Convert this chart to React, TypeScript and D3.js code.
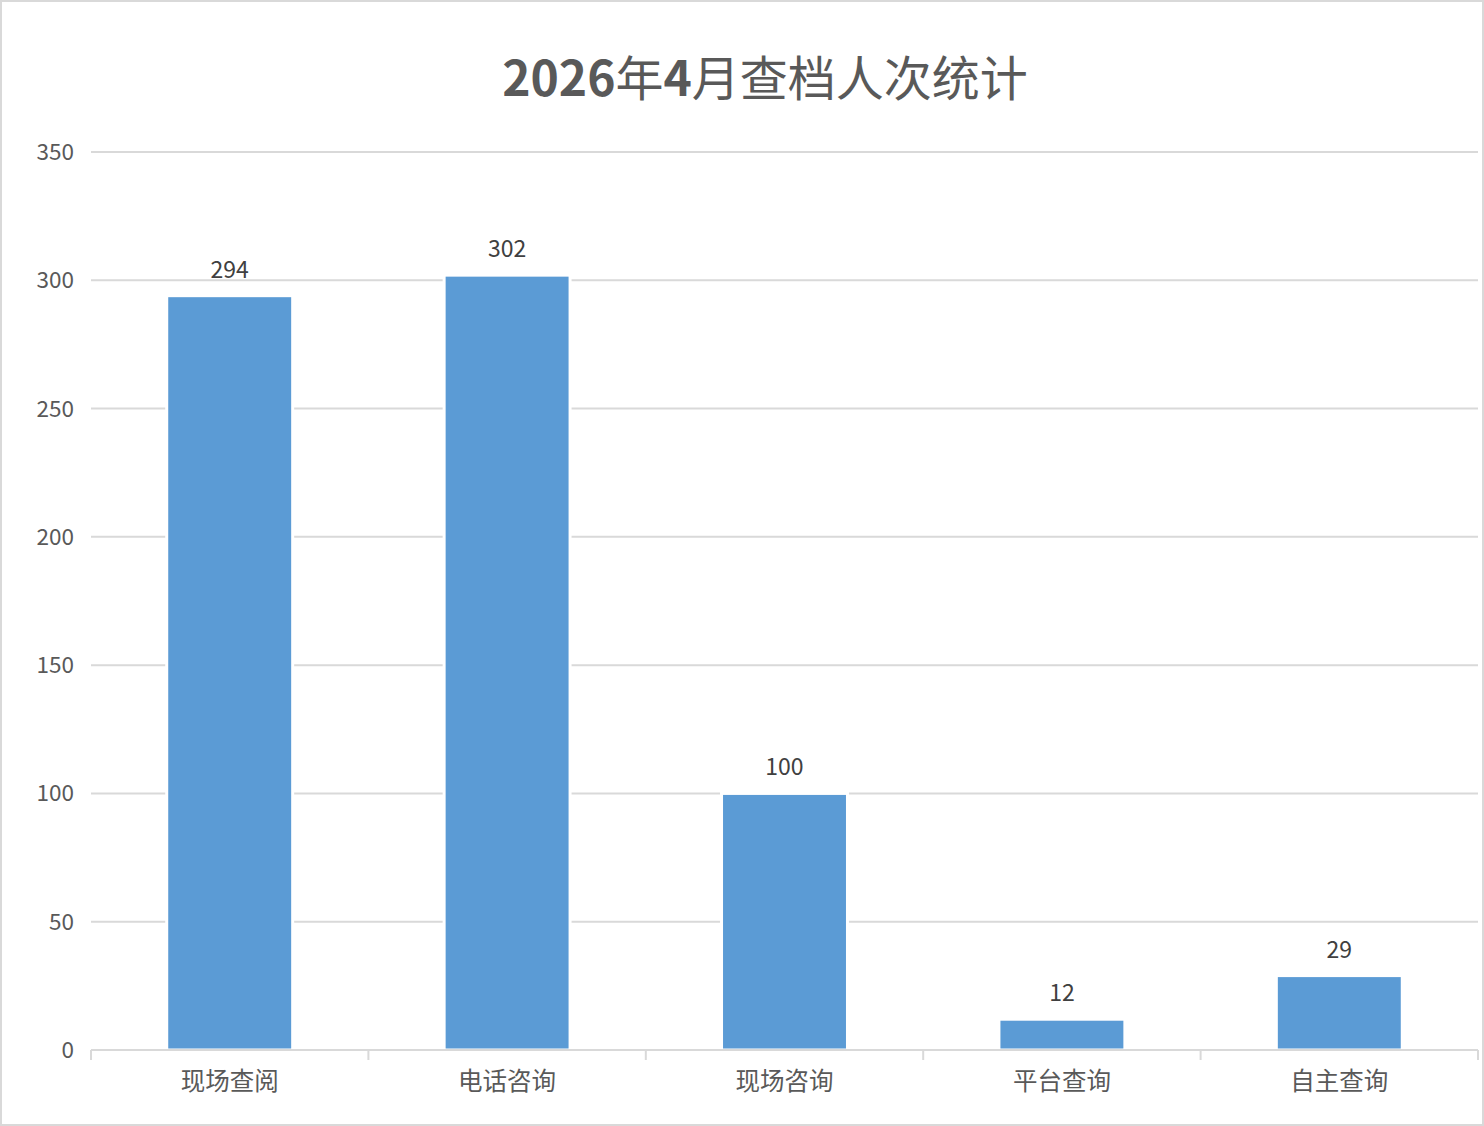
import React from "react";
import * as d3 from "d3";

const categories = ["现场查阅", "电话咨询", "现场咨询", "平台查询", "自主查询"];
const values = [294, 302, 100, 12, 29];
const yTicks = [0, 50, 100, 150, 200, 250, 300, 350];
const titleNum = "2026";
const titleMid = "年";
const titleNum2 = "4";
const titleRest = "月查档人次统计";

const W = 1484;
const H = 1126;
const left = 91;
const right = 1478;
const top = 152;
const bottom = 1050;

export default function App() {
  const x = d3.scaleBand<string>().domain(categories).range([left, right]).paddingInner(0.546).paddingOuter(0.273);
  const y = d3.scaleLinear().domain([0, 350]).range([bottom, top]);
  const step = (right - left) / categories.length;
  const font = "'Noto Sans CJK SC', 'Noto Sans', sans-serif";
  return (
    <div style={{ position: "fixed", left: 0, top: 0 }}>
      <svg width={W} height={H} style={{ display: "block", background: "#fff" }}>
        <rect x={1} y={1} width={W - 2} height={H - 2} fill="#fff" stroke="#d9d9d9" strokeWidth={2} />
        <text x={765} y={96} textAnchor="middle" fill="#595959" fontFamily={font} fontSize={48}>
          <tspan fontWeight="bold">{titleNum}</tspan>
          <tspan>{titleMid}</tspan>
          <tspan fontWeight="bold">{titleNum2}</tspan>
          <tspan>{titleRest}</tspan>
        </text>
        {yTicks.map((t) => (
          <g key={t}>
            {t > 0 && <line x1={left} x2={right} y1={y(t)} y2={y(t)} stroke="#d9d9d9" strokeWidth={2} />}
            <text x={74} y={y(t) + 8} textAnchor="end" fill="#595959" fontFamily={font} fontSize={22.5}>
              {t}
            </text>
          </g>
        ))}
        {categories.map((c, i) => (
          <rect
            key={c}
            x={x(c)!}
            y={y(values[i])}
            width={x.bandwidth()}
            height={bottom - y(values[i])}
            fill="#5b9bd5"
            stroke="#fff"
            strokeWidth={3}
          />
        ))}
        <line x1={left} x2={right} y1={bottom} y2={bottom} stroke="#d9d9d9" strokeWidth={2} />
        {d3.range(categories.length + 1).map((i) => (
          <line key={i} x1={left + i * step} x2={left + i * step} y1={bottom} y2={bottom + 10} stroke="#d9d9d9" strokeWidth={2} />
        ))}
        {categories.map((c, i) => (
          <text key={c} x={x(c)! + x.bandwidth() / 2} y={y(values[i]) - 18} textAnchor="middle" fill="#404040" fontFamily={font} fontSize={23}>
            {values[i]}
          </text>
        ))}
        {categories.map((c) => (
          <text key={c} x={x(c)! + x.bandwidth() / 2} y={1090} textAnchor="middle" fill="#595959" fontFamily={font} fontSize={24.5}>
            {c}
          </text>
        ))}
      </svg>
    </div>
  );
}
